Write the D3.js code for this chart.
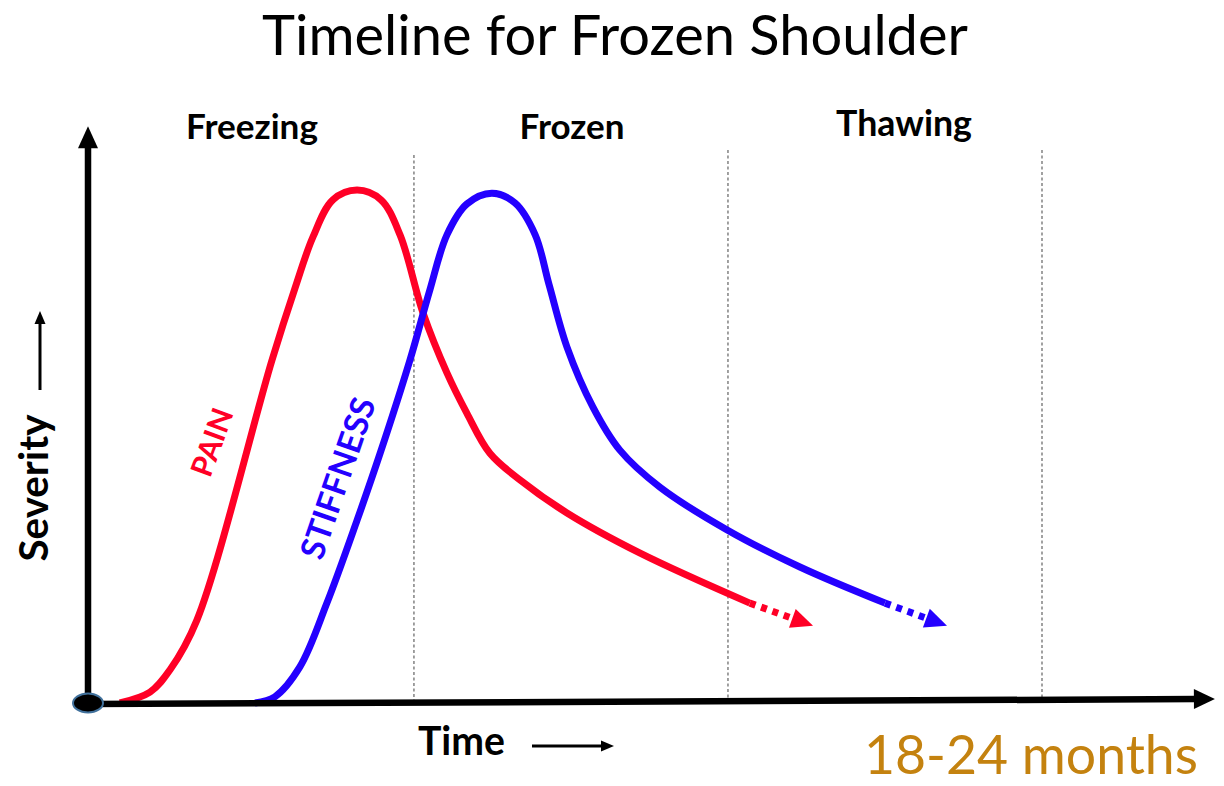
<!DOCTYPE html>
<html>
<head>
<meta charset="utf-8">
<script src="https://cdn.jsdelivr.net/npm/d3@7"></script>
<style>
  html, body { margin: 0; padding: 0; background: #fff; }
  svg { display: block; }
</style>
</head>
<body>
<svg id="chart" width="1224" height="786"></svg>
<script>
// ---------------- data ----------------
const title = "Timeline for Frozen Shoulder";
const phaseNames = ["Freezing", "Frozen", "Thawing"];
const phaseEnds = [8.2, 16.1, 24];            // months at which each phase ends
const painMonths   = [0.80, 1.56, 2.06, 2.74, 4.63, 5.21, 5.66, 6.16, 6.77, 7.37, 7.85, 8.43, 9.03, 9.53, 10.11, 10.87, 12.05, 13.89, 16.65];
const painSeverity = [0,    2.1,  6.4,  16.1, 66.6, 80.6, 90.5, 97.7, 99.6, 97.7, 90.9, 75.7, 64.1, 56.3, 48.5,  43.3,  36.9,  29.1,  19.4];
const painTrend    = [18.24, 15.0];            // where the dotted pain trend ends
const stiffMonths   = [4.20, 4.70, 5.33, 6.01, 6.77, 7.35, 8.10, 8.60, 9.03, 9.53, 10.16, 10.74, 11.25, 11.60, 12.05, 12.70, 13.38, 14.39, 16.08, 17.91, 20.05];
const stiffSeverity = [0,    1.2,  7.0,  19.4, 35.5, 48.5, 66.6, 80.2, 90.9, 96.9, 99.0,  97.1,  90.9,  81.2,  69.1,  57.5,  49.1,  41.9,  33.6,  26.4,  19.4];
const stiffTrend    = [21.61, 15.0];           // where the dotted stiffness trend ends
const seriesNames = ["PAIN", "STIFFNESS"];
const xLabel = "Time";
const yLabel = "Severity";
const durationLabel = "18-24 months";
const xMaxMonths = 28.35;
const yMaxSeverity = 112;

// ---------------- setup ----------------
const svg = d3.select("#chart");
const x = d3.scaleLinear().domain([0, 24]).range([88, 1042]);
const y = d3.scaleLinear().domain([0, 100]).range([703, 188]);

const RED = "#FF0026", BLUE = "#2400FF", GOLD = "#C4820F";
const FONT = "Lato, 'Open Sans', sans-serif";

function fit(t, w) {
  const cur = t.node().getComputedTextLength();
  const fs = parseFloat(t.attr("font-size"));
  t.attr("font-size", fs * w / cur);
  return t;
}
function arrowHead(g, tip, angle, len, half, color) {
  const bx = tip[0] - len * Math.cos(angle), by = tip[1] - len * Math.sin(angle);
  const nx = -Math.sin(angle) * half, ny = Math.cos(angle) * half;
  g.append("path")
    .attr("d", `M${tip[0]},${tip[1]}L${bx + nx},${by + ny}L${bx - nx},${by - ny}Z`)
    .attr("fill", color);
  return [bx, by];
}

// ---------------- title ----------------
fit(svg.append("text").attr("x", 615).attr("y", 55).attr("text-anchor", "middle")
  .attr("font-family", FONT).attr("font-size", 50).attr("fill", "#000").text(title), 706);

// ---------------- phase dividers ----------------
const dividerTop = [155, 150, 150];
phaseEnds.forEach((m, i) => {
  svg.append("line")
    .attr("x1", x(m)).attr("x2", x(m))
    .attr("y1", dividerTop[i]).attr("y2", y(0) - 3)
    .attr("stroke", "#555").attr("stroke-width", 1.1)
    .attr("stroke-dasharray", "3,2.5");
});

// ---------------- phase labels ----------------
const phaseWidths = [132, 105, 136];
const phaseBase = [139, 139, 136];
const phaseCenters = [252, 572, 904];
phaseNames.forEach((n, i) => {
  fit(svg.append("text").attr("x", phaseCenters[i]).attr("y", phaseBase[i]).attr("text-anchor", "middle")
    .attr("font-family", FONT).attr("font-weight", 700).attr("font-size", 28)
    .attr("fill", "#000").text(n), phaseWidths[i]);
});

// ---------------- curves ----------------
const line = d3.line().x(d => x(d[0])).y(d => y(d[1])).curve(d3.curveCatmullRom.alpha(0.5));
const painPts = painMonths.map((m, i) => [m, painSeverity[i]]);
const stiffPts = stiffMonths.map((m, i) => [m, stiffSeverity[i]]);

function drawSeries(pts, trend, color) {
  const g = svg.append("g");
  g.append("path").attr("d", line(pts)).attr("fill", "none")
    .attr("stroke", color).attr("stroke-width", 7).attr("stroke-linecap", "butt");
  const a = [x(pts[pts.length - 1][0]), y(pts[pts.length - 1][1])];
  const tip = [x(trend[0]), y(trend[1])];
  const ang = Math.atan2(tip[1] - a[1], tip[0] - a[0]);
  const base = arrowHead(g, tip, ang, 22, 10, color);
  g.append("line").attr("x1", a[0]).attr("y1", a[1]).attr("x2", base[0]).attr("y2", base[1])
    .attr("stroke", color).attr("stroke-width", 7).attr("stroke-dasharray", "6,6");
}
drawSeries(painPts, painTrend, RED);
drawSeries(stiffPts, stiffTrend, BLUE);

// ---------------- series labels ----------------
fit(svg.append("text").attr("transform", "translate(222,446) rotate(-70)")
  .attr("text-anchor", "middle").attr("font-family", FONT).attr("font-weight", 700)
  .attr("font-size", 26).attr("fill", RED).text(seriesNames[0]), 70);
fit(svg.append("text").attr("transform", "translate(349,482) rotate(-71)")
  .attr("text-anchor", "middle").attr("font-family", FONT).attr("font-weight", 700)
  .attr("font-size", 26).attr("fill", BLUE).text(seriesNames[1]), 168);

// ---------------- axes ----------------
const ax = svg.append("g");
// y axis
const yTop = y(yMaxSeverity);
ax.append("line").attr("x1", x(0)).attr("x2", x(0)).attr("y1", y(0)).attr("y2", yTop + 18)
  .attr("stroke", "#000").attr("stroke-width", 6.5);
arrowHead(ax, [x(0), yTop], -Math.PI / 2, 22, 10, "#000");
// x axis (slightly tilted as drawn)
const xStart = [x(0), y(0) + 1], xTip = [x(xMaxMonths), y(0) - 4];
const xAng = Math.atan2(xTip[1] - xStart[1], xTip[0] - xStart[0]);
ax.append("line").attr("x1", xStart[0]).attr("y1", xStart[1])
  .attr("x2", xTip[0] - 18 * Math.cos(xAng)).attr("y2", xTip[1] - 18 * Math.sin(xAng))
  .attr("stroke", "#000").attr("stroke-width", 6.5);
arrowHead(ax, xTip, xAng, 21, 10, "#000");
// origin dot
ax.append("ellipse").attr("cx", x(0)).attr("cy", y(0)).attr("rx", 15).attr("ry", 9.5)
  .attr("fill", "#000").attr("stroke", "#41719C").attr("stroke-width", 2);

// ---------------- axis labels ----------------
fit(svg.append("text").attr("transform", "translate(48,488) rotate(-90)")
  .attr("text-anchor", "middle").attr("font-family", FONT).attr("font-weight", 700)
  .attr("font-size", 30).attr("fill", "#000").text(yLabel), 147);
const ya = svg.append("g");
ya.append("line").attr("x1", 40).attr("x2", 40).attr("y1", 390).attr("y2", 322)
  .attr("stroke", "#000").attr("stroke-width", 3);
arrowHead(ya, [40, 311], -Math.PI / 2, 13, 5.5, "#000");

fit(svg.append("text").attr("x", 418).attr("y", 755)
  .attr("font-family", FONT).attr("font-weight", 700)
  .attr("font-size", 30).attr("fill", "#000").text(xLabel), 87);
const xa = svg.append("g");
xa.append("line").attr("x1", 532).attr("x2", 603).attr("y1", 746).attr("y2", 746)
  .attr("stroke", "#000").attr("stroke-width", 3);
arrowHead(xa, [614, 746], 0, 13, 5.5, "#000");

fit(svg.append("text").attr("x", 864).attr("y", 774)
  .attr("font-family", FONT).attr("font-size", 46).attr("fill", GOLD).text(durationLabel), 334);
</script>
</body>
</html>
